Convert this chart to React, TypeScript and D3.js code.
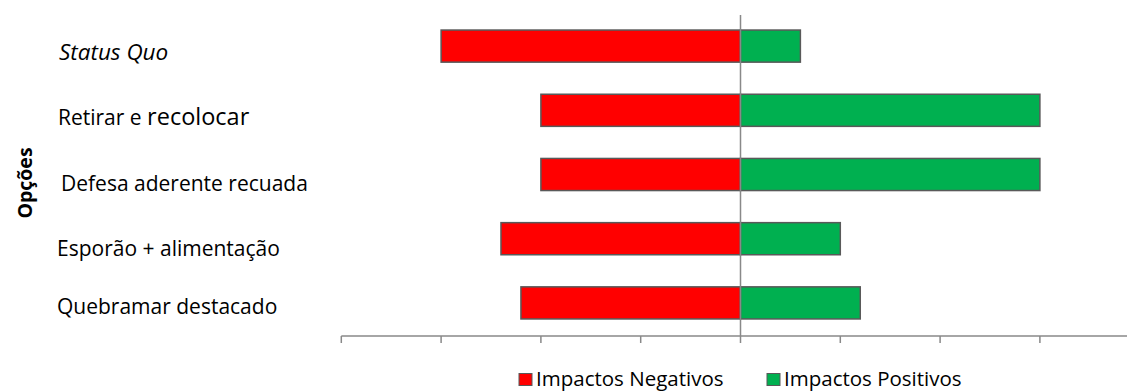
import React from "react";
import * as d3 from "d3";

// Options compared and their scored impacts (negative side / positive side)
const options = [
  "Status Quo",
  "Retirar e recolocar",
  "Defesa aderente recuada",
  "Esporão + alimentação",
  "Quebramar destacado",
];
const negativeImpacts = [-3.0, -2.0, -2.0, -2.4, -2.2];
const positiveImpacts = [0.6, 3.0, 3.0, 1.0, 1.2];
const axisTicks = [-4, -3, -2, -1, 0, 1, 2, 3, 4];
const seriesNames = ["Impactos Negativos", "Impactos Positivos"];

const WIDTH = 1127;
const HEIGHT = 392;
const FONT = "'Open Sans', 'Noto Sans', sans-serif";
const RED = "#FF0000";
const GREEN = "#00B050";
const BAR_STROKE = "#595959";
const AXIS = "#898989";
const LABEL_SIZE = 21;

// hand-placed text boxes for the category labels [dx, dy]
const labelNudge: [number, number][] = [
  [0, 6],
  [-1, 7],
  [2, 9],
  [-2, 10],
  [-2, 4],
];

function CategoryLabel({ text, index }: { text: string; index: number }) {
  if (index === 0) {
    return <tspan fontStyle="italic" fontSize={22.5}>{text}</tspan>;
  }
  if (index === 1) {
    // the last word of this box was typed in a larger size
    const cut = text.lastIndexOf(" ");
    return (
      <>
        <tspan>{text.slice(0, cut + 1)}</tspan>
        <tspan fontSize={23.5}>{text.slice(cut + 1)}</tspan>
      </>
    );
  }
  return <tspan>{text}</tspan>;
}

export default function App() {
  const x = d3.scaleLinear().domain([-4, 4]).range([341.3, 1139.7]);
  const y = d3
    .scaleBand<string>()
    .domain(options)
    .range([14, 335])
    .paddingInner(0.5)
    .paddingOuter(0.25);

  const axisY = 336;
  const zeroX = x(0);

  return (
    <svg
      width={WIDTH}
      height={HEIGHT}
      style={{ position: "absolute", left: 0, top: 0, background: "#fff" }}
      fontFamily={FONT}
    >
      {/* bars */}
      {options.map((o, i) => {
        const y0 = y(o)!;
        const h = y.bandwidth();
        const xn = x(negativeImpacts[i]);
        const xp = x(positiveImpacts[i]);
        return (
          <g key={o}>
            <rect
              x={xn}
              y={y0}
              width={zeroX - xn}
              height={h}
              fill={RED}
              stroke={BAR_STROKE}
              strokeWidth={1.5}
            />
            <rect
              x={zeroX}
              y={y0}
              width={xp - zeroX}
              height={h}
              fill={GREEN}
              stroke={BAR_STROKE}
              strokeWidth={1.5}
            />
          </g>
        );
      })}

      {/* vertical zero line */}
      <line
        x1={zeroX}
        x2={zeroX}
        y1={15}
        y2={axisY}
        stroke={AXIS}
        strokeWidth={1.5}
      />

      {/* horizontal value axis */}
      <line
        x1={x(-4)}
        x2={x(4)}
        y1={axisY}
        y2={axisY}
        stroke={AXIS}
        strokeWidth={1.5}
      />
      {axisTicks.map((t) => (
        <line
          key={t}
          x1={x(t)}
          x2={x(t)}
          y1={axisY}
          y2={axisY + 7}
          stroke={AXIS}
          strokeWidth={1.5}
        />
      ))}

      {/* category labels */}
      {options.map((o, i) => {
        const cy = y(o)! + y.bandwidth() / 2;
        const [dx, dy] = labelNudge[i];
        return (
          <text
            key={o}
            x={59 + dx}
            y={cy + dy + 7.5}
            fontSize={LABEL_SIZE}
            fill="#000"
          >
            <CategoryLabel text={o} index={i} />
          </text>
        );
      })}

      {/* axis title */}
      <text
        transform={`translate(25, 183) rotate(-90)`}
        textAnchor="middle"
        dy="0.36em"
        fontSize={19.5}
        fontWeight="bold"
        fill="#000"
      >
        Opções
      </text>

      {/* legend */}
      {seriesNames.map((s, i) => {
        const lx = i === 0 ? 519 : 767;
        return (
          <g key={s}>
            <rect
              x={lx}
              y={373.5}
              width={13}
              height={12}
              fill={i === 0 ? RED : GREEN}
              stroke={BAR_STROKE}
              strokeWidth={1}
            />
            <text x={lx + 17} y={386} fontSize={20.5} fill="#000">
              {s}
            </text>
          </g>
        );
      })}
    </svg>
  );
}
